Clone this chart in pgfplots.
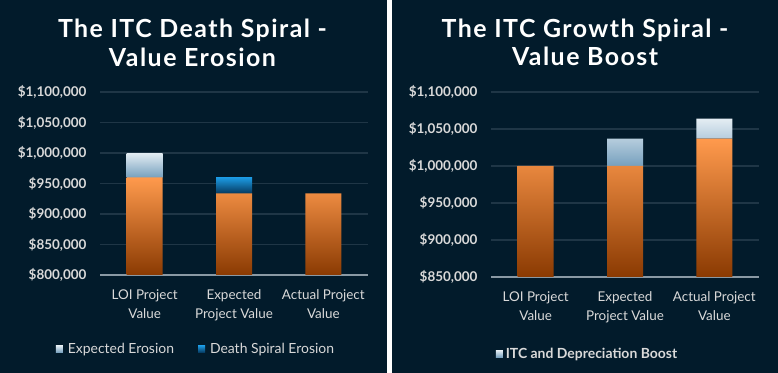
\documentclass[border=0pt]{standalone}
\usepackage{pgfplots}
\pgfplotsset{compat=1.18}
\usepackage{fontspec}
\setmainfont{Lato}
\newfontfamily\titlefont{Lato}[LetterSpace=6]
\definecolor{bg}{HTML}{021B2B}
\definecolor{gridc}{HTML}{1F3646}
\definecolor{axisgray}{HTML}{8A99A4}
\definecolor{lbl}{HTML}{D9D9D9}
\definecolor{orTop}{HTML}{FF9A4D}
\definecolor{orMid}{HTML}{D45500}
\definecolor{orBot}{HTML}{8A3A02}
\definecolor{erTop}{HTML}{E4EDF3}
\definecolor{erMid}{HTML}{CCDCE7}
\definecolor{erBot}{HTML}{76A0BE}
\definecolor{dsTop}{HTML}{1C9BE4}
\definecolor{dsBot}{HTML}{063A60}

\pgfplotsset{
 panel/.style={
  scale only axis, width=268bp,
  ybar stacked, bar width=36bp,
  xmin=-0.5, xmax=2.5,
  xtick={0,1,2},
  xticklabels={{LOI Project\\Value},{Expected\\Project Value},{Actual Project\\Value}},
  xticklabel style={align=center, font=\fontsize{13.5}{19}\selectfont, text=lbl, yshift=-11bp},
  x tick style={draw=none},
  extra x ticks={-0.5,0.5,1.5,2.5},
  extra x tick labels={},
  extra x tick style={major tick length=5bp, tick align=outside, tick style={draw=axisgray, line width=1.5bp}},
  axis x line*=bottom,
  axis y line*=left,
  x axis line style={draw=axisgray, line width=2bp},
  y axis line style={draw=none},
  ytick distance=50000,
  ymajorgrids, grid style={draw=gridc, line width=1.5bp},
  y tick style={draw=none},
  scaled y ticks=false,
  yticklabel={\$\pgfmathprintnumber{\tick}},
  /pgf/number format/.cd, fixed, precision=0, 1000 sep={,}, assume math mode=true, /pgfplots/.cd,
  yticklabel style={font=\bfseries\fontsize{13.5}{15}\selectfont, text=lbl, xshift=-10bp},
  title style={font=\titlefont\bfseries\fontsize{25}{29}\selectfont, text=white, align=center, anchor=center},
  legend style={draw=none, fill=none, text=lbl, anchor=center,
    /tikz/every even column/.append style={column sep=22bp},
    nodes={inner xsep=2bp}},
 },
 orangebar/.style={draw=none, top color=orTop, middle color=orMid, bottom color=orBot, forget plot},
}

\begin{document}
\begin{tikzpicture}
\fill[bg] (0,0) rectangle (778bp,373bp);
\fill[white] (387bp,0) rectangle (392bp,373bp);

\begin{axis}[panel,
  at={(100bp,98bp)}, anchor=south west, height=183bp,
  ymin=800000, ymax=1100000,
  title={The ITC Death Spiral -\\Value Erosion},
  title style={at={(axis description cs:0.345,1.237)}},
  legend columns=2,
  legend style={at={(axis description cs:0.358,-0.404)}, font=\fontsize{14}{16}\selectfont},
]
\addplot[orangebar] coordinates {(0,960000) (1,934000) (2,934000)};
\addplot[draw=none, top color=erTop, middle color=erMid, bottom color=erBot,
  legend image code/.code={\shade[top color=erTop,bottom color=erBot] (0bp,-3.5bp) rectangle (7bp,3.5bp); \path (0bp,0bp) (10bp,0bp);}]
  coordinates {(0,40000) (1,0) (2,0)};
\addlegendentry{Expected Erosion}
\addplot[draw=none, top color=dsTop, bottom color=dsBot,
  legend image code/.code={\shade[top color=dsTop,bottom color=dsBot] (0bp,-3.5bp) rectangle (7bp,3.5bp); \path (0bp,0bp) (10bp,0bp);}]
  coordinates {(0,0) (1,26000) (2,0)};
\addlegendentry{Death Spiral Erosion}
\end{axis}

\begin{axis}[panel,
  at={(491bp,96bp)}, anchor=south west, height=185bp,
  ymin=850000, ymax=1100000,
  title={The ITC Growth Spiral -\\Value Boost},
  title style={at={(axis description cs:0.351,1.236)}},
  legend style={at={(axis description cs:0.36,-0.415)}, font=\bfseries\fontsize{14}{16}\selectfont},
]
\addplot[orangebar] coordinates {(0,1000000) (1,1000000) (2,1037000)};
\addplot[draw=none, top color=erTop, middle color=erMid, bottom color=erBot,
  legend image code/.code={\shade[top color=erTop,bottom color=erBot] (0bp,-3.5bp) rectangle (7bp,3.5bp); \path (0bp,0bp) (8bp,0bp);}]
  coordinates {(0,0) (1,37000) (2,27000)};
\addlegendentry{ITC and Depreciation Boost}
\end{axis}

\pgfresetboundingbox
\useasboundingbox (0,0) rectangle (778bp,373bp);
\end{tikzpicture}
\end{document}
